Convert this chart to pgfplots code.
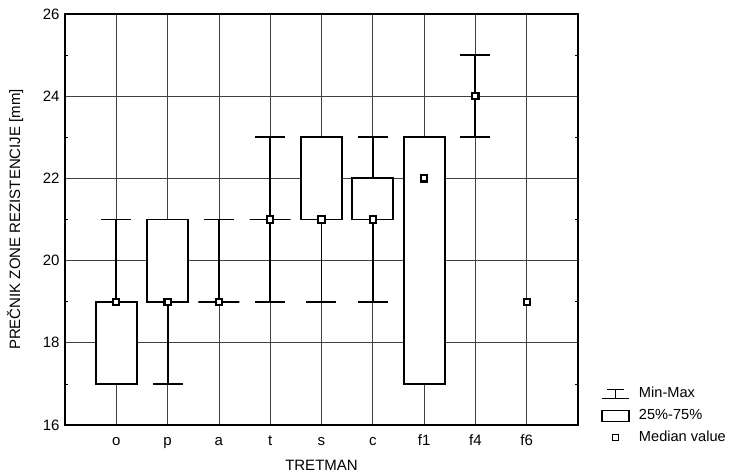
\documentclass[border=0pt]{standalone}
\usepackage{pgfplots}
\pgfplotsset{compat=1.18}
\usepackage{fontspec}
\setmainfont{Liberation Sans}
\pgfplotsset{
  whisk/.style={black, line width=1.9pt, forget plot, only marks, mark=*, mark size=1pt,
    error bars/.cd, y dir=both, y explicit, error mark=-,
    error mark options={black, line width=1.9pt, mark size=15pt, rotate=90},
    error bar style={black, line width=1.9pt}},
  boxq/.style={black, line width=1.9pt, fill=white, forget plot, mark=none},
}
\begin{document}
\begin{tikzpicture}
\begin{axis}[
  scale only axis, width=513pt, height=411pt,
  xmin=0, xmax=10, ymin=16, ymax=26,
  xtick={1,2,3,4,5,6,7,8,9},
  xticklabels={o,p,a,t,s,c,f1,f4,f6},
  ytick={16,18,20,22,24,26},
  minor y tick num=1,
  grid=major,
  grid style={black!75, line width=0.75pt},
  axis line style={line width=1.4pt},
  major tick length=0pt,
  minor tick length=3pt,
  minor tick style={black, line width=0.6pt},
  /pgf/number format/assume math mode=true,
  tick label style={font=\fontsize{15}{17}\selectfont},
  xticklabel style={anchor=base, yshift=-20pt},
  yticklabel style={xshift=-2pt},
  label style={font=\fontsize{15}{17}\selectfont},
  xlabel={TRETMAN},
  ylabel={PREČNIK ZONE REZISTENCIJE [mm]},
  xlabel style={at={(axis description cs:0.5,-0.0973)}, anchor=center},
  ylabel style={at={(axis description cs:-0.097,0.5)}, anchor=center},
  legend style={at={(1.045,-0.05)}, anchor=south west, draw=none, fill=none,
    font=\fontsize{14.6}{17}\selectfont, inner sep=0pt, row sep=7pt, column sep=9pt,
    nodes={inner xsep=0pt, inner ysep=0pt, text height=11pt, text depth=4pt}},
  legend cell align=left,
]
% whiskers: median, +(max-median), -(median-min)
\addplot[whisk] coordinates {
  (1,19) += (0,2) -= (0,0)
  (2,19) += (0,0) -= (0,2)
  (3,19) += (0,2) -= (0,0)
  (4,21) += (0,2) -= (0,2)
  (5,21) += (0,2) -= (0,2)
  (6,21) += (0,2) -= (0,2)
  (7,22) += (0,1) -= (0,5)
  (8,24) += (0,1) -= (0,1)
};
% boxes 25%-75%
\addplot[boxq] coordinates {(0.6,17) (1.4,17) (1.4,19) (0.6,19)} -- cycle;
\addplot[boxq] coordinates {(1.6,19) (2.4,19) (2.4,21) (1.6,21)} -- cycle;
\addplot[boxq] coordinates {(2.6,19) (3.4,19) (3.4,19) (2.6,19)} -- cycle;
\addplot[boxq] coordinates {(3.6,21) (4.4,21) (4.4,21) (3.6,21)} -- cycle;
\addplot[boxq] coordinates {(4.6,21) (5.4,21) (5.4,23) (4.6,23)} -- cycle;
\addplot[boxq] coordinates {(5.6,21) (6.4,21) (6.4,22) (5.6,22)} -- cycle;
\addplot[boxq] coordinates {(6.6,17) (7.4,17) (7.4,23) (6.6,23)} -- cycle;
% medians
\addplot[only marks, forget plot, mark=square*, mark size=3.1pt,
  mark options={fill=white, draw=black, line width=2.1pt}]
  coordinates {(1,19) (2,19) (3,19) (4,21) (5,21) (6,21) (7,22) (8,24) (9,19)};
% legend
\addlegendimage{legend image code/.code={
  \path[draw=none, fill=none] (0pt,-6pt) rectangle (27pt,6pt);
  \draw[black, line width=1.7pt] (5pt,4.5pt) -- (22pt,4.5pt);
  \draw[black, line width=1.7pt] (13.5pt,4.5pt) -- (13.5pt,-4.5pt);
  \draw[black, line width=1.7pt] (0pt,-4.5pt) -- (27pt,-4.5pt);}}
\addlegendentry{Min-Max}
\addlegendimage{legend image code/.code={
  \path[draw=none, fill=none] (0pt,-6pt) rectangle (27pt,6pt);
  \draw[black, fill=white, line width=1.5pt] (0pt,-5.5pt) rectangle (27pt,5.5pt);}}
\addlegendentry{25\%-75\%}
\addlegendimage{legend image code/.code={
  \path[draw=none, fill=none] (0pt,-6pt) rectangle (27pt,6pt);
  \draw[black, fill=white, line width=0.9pt] (10.5pt,-3pt) rectangle (16.5pt,3pt);}}
\addlegendentry{Median value}
\end{axis}
\path ([xshift=-65pt,yshift=-47pt]current axis.south west) rectangle ([xshift=151pt,yshift=14pt]current axis.north east);
\end{tikzpicture}
\end{document}
